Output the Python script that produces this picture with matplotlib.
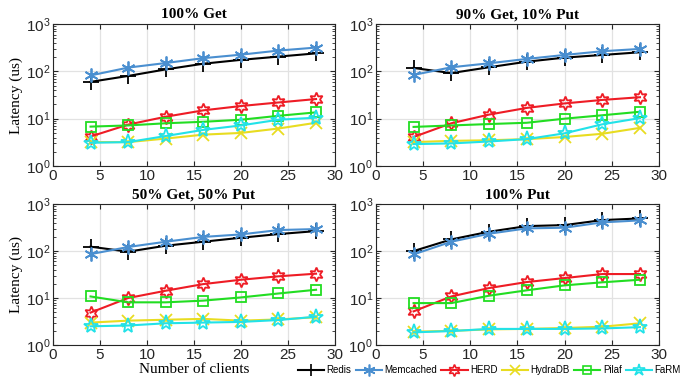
import matplotlib
matplotlib.use("Agg")
import matplotlib.pyplot as plt
from matplotlib.ticker import LogLocator, NullFormatter
from matplotlib.lines import Line2D

plt.rcParams['font.family'] = ['Liberation Sans', 'DejaVu Sans']
plt.rcParams['mathtext.fontset'] = 'custom'
plt.rcParams['mathtext.rm'] = 'Liberation Sans'
plt.rcParams['mathtext.it'] = 'Liberation Sans'

clients = [4, 8, 12, 16, 20, 24, 28]
systems = ["Redis", "Memcached", "HERD", "HydraDB", "Pilaf", "FaRM"]
titles = ["100% Get", "90% Get, 10% Put", "50% Get, 50% Put", "100% Put"]

get100_redis = [60, 80, 110, 145, 175, 205, 240]
get100_memc = [82, 120, 150, 190, 225, 275, 318]
get100_herd = [4.2, 7.5, 11, 15, 18.5, 22, 26]
get100_hydra = [3.2, 3.2, 3.8, 4.6, 5.0, 6.2, 8.2]
get100_pilaf = [6.8, 7.2, 8.0, 8.6, 9.5, 11.5, 13.6]
get100_farm = [3.1, 3.2, 4.3, 5.8, 7.2, 9.5, 10.5]

get90_redis = [118, 92, 122, 160, 195, 222, 253]
get90_memc = [84, 122, 148, 183, 222, 266, 298]
get90_herd = [4.1, 8.0, 12.2, 16.9, 21, 24.9, 28.4]
get90_hydra = [3.2, 3.4, 3.5, 3.7, 4.1, 4.8, 6.4]
get90_pilaf = [6.7, 7.2, 7.7, 8.2, 10, 11.8, 14]
get90_farm = [2.9, 3.0, 3.3, 3.7, 4.9, 7.6, 10.3]

get50_redis = [124, 97, 130, 158, 192, 230, 266]
get50_memc = [86, 122, 158, 200, 226, 280, 294]
get50_herd = [4.9, 10, 14.3, 19.8, 24.5, 29, 33]
get50_hydra = [3.0, 3.3, 3.45, 3.6, 3.3, 3.5, 3.9]
get50_pilaf = [10.8, 8.1, 8.1, 8.8, 10.3, 12.5, 15]
get50_farm = [2.5, 2.6, 2.9, 3.0, 3.1, 3.4, 4.0]

put100_redis = [100, 177, 258, 340, 357, 456, 495]
put100_memc = [85, 158, 234, 304, 314, 408, 450]
put100_herd = [5.2, 10.8, 16.3, 21.9, 26.6, 32.4, 32.4]
put100_hydra = [1.92, 2.0, 2.15, 2.2, 2.3, 2.45, 2.9]
put100_pilaf = [7.8, 7.8, 11.2, 14.6, 18.6, 21.6, 24.5]
put100_farm = [1.86, 1.98, 2.2, 2.2, 2.2, 2.25, 2.4]

panels = [
    [get100_redis, get100_memc, get100_herd, get100_hydra, get100_pilaf, get100_farm],
    [get90_redis, get90_memc, get90_herd, get90_hydra, get90_pilaf, get90_farm],
    [get50_redis, get50_memc, get50_herd, get50_hydra, get50_pilaf, get50_farm],
    [put100_redis, put100_memc, put100_herd, put100_hydra, put100_pilaf, put100_farm],
]

colors = ["#000000", "#4A8FD0", "#EE1C25", "#E8DC20", "#22DD22", "#22E2E8"]
markers = ["+", (6, 2, 0), (6, 1, 0), "x", "s", "*"]
msizes = [11, 10, 10, 8, 7.5, 11]

fig = plt.figure(figsize=(6.96, 3.85), dpi=100)
positions = [
    [0.0761, 0.5688, 0.405, 0.3688],
    [0.540, 0.5688, 0.4066, 0.3688],
    [0.0761, 0.1039, 0.405, 0.366],
    [0.540, 0.1039, 0.4066, 0.366],
]

for i, (pos, data, title) in enumerate(zip(positions, panels, titles)):
    ax = fig.add_axes(pos)
    for j, (vals, c, m, ms) in enumerate(zip(data, colors, markers, msizes)):
        ax.plot(clients, vals, color=c, marker=m, markersize=ms, lw=1.5,
                markerfacecolor='none', markeredgecolor=c, markeredgewidth=1.3,
                label=systems[j])
    ax.set_yscale('log')
    ax.set_ylim(1, 1000)
    ax.set_xlim(0, 30)
    ax.set_xticks([0, 5, 10, 15, 20, 25, 30])
    ax.yaxis.set_major_locator(LogLocator(base=10, numticks=10))
    ax.yaxis.set_minor_locator(LogLocator(base=10, subs=range(2, 10), numticks=10))
    ax.yaxis.set_minor_formatter(NullFormatter())
    ax.grid(True, which='major', color='#E2E2E2', lw=0.9)
    ax.set_axisbelow(True)
    ax.tick_params(which='both', direction='in', top=True, right=True,
                   labelsize=11, colors='#262626', pad=2)
    ax.tick_params(which='major', length=3.5)
    ax.tick_params(which='minor', length=2)
    ax.tick_params(axis='x', which='minor', top=False, bottom=False)
    for s in ax.spines.values():
        s.set_color('#262626')
        s.set_linewidth(0.8)
    ax.set_title(title, family='Liberation Serif', fontweight='bold', fontsize=11, pad=4)
    if i in (0, 2):
        ax.set_ylabel("Latency (us)", family='Liberation Serif', fontsize=11, labelpad=2)
    if i == 2:
        ax.set_xlabel("Number of clients", family='Liberation Serif', fontsize=11, labelpad=1)

handles = [Line2D([], [], color=c, marker=m, markersize=ms * 0.85, lw=1.5,
                  markerfacecolor='none', markeredgecolor=c, markeredgewidth=1.2)
           for c, m, ms in zip(colors, markers, msizes)]
fig.legend(handles, systems, loc='center', bbox_to_anchor=(0.703, 0.039), ncol=6,
           frameon=False, fontsize=7, handlelength=2.7, handletextpad=0.25,
           columnspacing=0.45, borderpad=0)

fig.savefig("out.png", dpi=100)
